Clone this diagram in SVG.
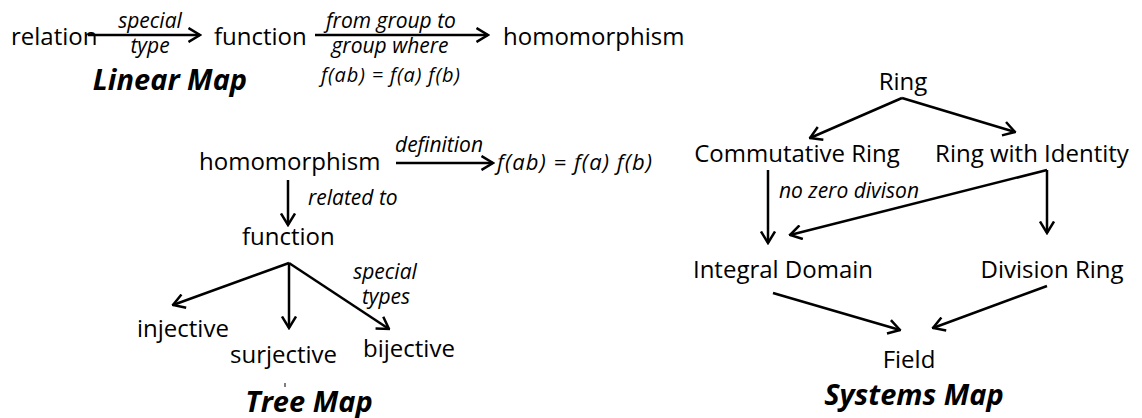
<svg xmlns="http://www.w3.org/2000/svg" width="1142" height="418" viewBox="0 0 1142 418">
<style>
.n{font-family:"Open Sans","Noto Sans",sans-serif;font-size:24px;fill:#000}
.l{font-family:"Open Sans","Noto Sans",sans-serif;font-size:21px;font-style:italic;fill:#000}
.t{font-family:"Open Sans","Noto Sans",sans-serif;font-size:29px;font-style:italic;font-weight:bold;fill:#000}
.c{stroke:#000;stroke-width:2.5;fill:none;marker-end:url(#ah)}
</style>
<defs>
<marker id="ah" viewBox="0 0 14 16" refX="12.5" refY="8" markerWidth="14" markerHeight="16" markerUnits="userSpaceOnUse" orient="auto">
<path d="M1,1 L12.5,8 L1,15" fill="none" stroke="#000" stroke-width="2.5"/>
</marker>
</defs>
<rect width="1142" height="418" fill="#fff"/>
<g id="connectors">
<line class="c" x1="88" y1="35" x2="200" y2="35"/>
<line class="c" x1="315" y1="35" x2="488" y2="35"/>
<line class="c" x1="396" y1="163" x2="493" y2="163"/>
<line class="c" x1="288" y1="180" x2="288" y2="225"/>
<path d="M289,263 L173,305" class="c"/>
<line class="c" x1="289" y1="263" x2="289" y2="328"/>
<line class="c" x1="289" y1="263" x2="389" y2="329"/>
<line class="c" x1="902" y1="98" x2="810" y2="138"/>
<line class="c" x1="902" y1="98" x2="1015" y2="132"/>
<line class="c" x1="768" y1="170" x2="768" y2="243"/>
<line class="c" x1="1047" y1="170" x2="790" y2="235"/>
<line class="c" x1="1047" y1="170" x2="1047" y2="233"/>
<line class="c" x1="773" y1="293" x2="900" y2="330"/>
<line class="c" x1="1047" y1="286" x2="933" y2="328"/>
<line x1="285" y1="383" x2="285" y2="387" stroke="#000" stroke-width="1"/>
</g>
<g id="linear-map">
<text class="n" x="11" y="45">relation</text>
<text class="l" x="150" y="28" text-anchor="middle">special</text>
<text class="l" x="150" y="53" text-anchor="middle">type</text>
<text class="n" x="214" y="45">function</text>
<text class="l" x="391" y="28" text-anchor="middle">from group to</text>
<text class="l" x="390" y="53" text-anchor="middle">group where</text>
<text class="l" x="321" y="82" textLength="139" lengthAdjust="spacing" style="font-size:20px">f(ab) = f(a) f(b)</text>
<text class="n" x="503" y="45">homomorphism</text>
<text class="t" x="170" y="90" text-anchor="middle">Linear Map</text>
</g>
<g id="tree-map">
<text class="n" x="199" y="170">homomorphism</text>
<text class="l" x="439" y="152" text-anchor="middle">definition</text>
<text class="l" x="497" y="170" textLength="155" lengthAdjust="spacing" style="font-size:22px">f(ab) = f(a) f(b)</text>
<text class="l" x="308" y="205">related to</text>
<text class="n" x="242" y="245">function</text>
<text class="l" x="385" y="279" text-anchor="middle">special</text>
<text class="l" x="386" y="304" text-anchor="middle">types</text>
<text class="n" x="137" y="337">injective</text>
<text class="n" x="230" y="363">surjective</text>
<text class="n" x="363" y="357">bijective</text>
<text class="t" x="309" y="412" text-anchor="middle">Tree Map</text>
</g>
<g id="systems-map">
<text class="n" x="903" y="90" text-anchor="middle">Ring</text>
<text class="n" x="797" y="162" text-anchor="middle">Commutative Ring</text>
<text class="n" x="1032" y="162" text-anchor="middle">Ring with Identity</text>
<text class="l" x="849" y="198" text-anchor="middle">no zero divison</text>
<text class="n" x="783" y="278" text-anchor="middle">Integral Domain</text>
<text class="n" x="1052" y="278" text-anchor="middle">Division Ring</text>
<text class="n" x="909" y="368" text-anchor="middle">Field</text>
<text class="t" x="914" y="405" text-anchor="middle">Systems Map</text>
</g>
</svg>
